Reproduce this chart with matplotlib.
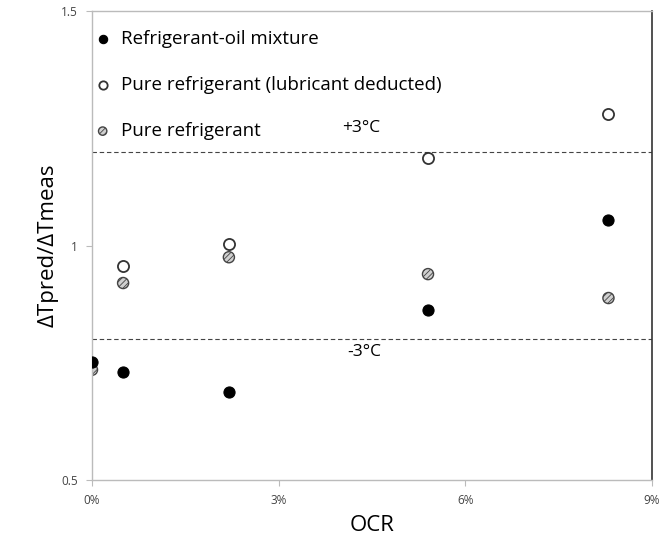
import matplotlib
matplotlib.use("Agg")
from matplotlib import pyplot as plt

plt.rcParams['font.family'] = ['Open Sans', 'DejaVu Sans']
plt.rcParams['hatch.linewidth'] = 0.6

# OCR (%) and predicted/measured ratios
ocr = [0.0, 0.5, 2.2, 5.4, 8.3]
mixture = [0.752, 0.730, 0.688, 0.862, 1.054]
deducted = [None, 0.956, 1.003, 1.187, 1.280]
pure = [0.735, 0.920, 0.975, 0.939, 0.888]

ocr_deducted = [x for x, v in zip(ocr, deducted) if v is not None]
deducted_vals = [v for v in deducted if v is not None]

upper, lower = 1.2, 0.8
xticks = [0, 3, 6, 9]
xticklabels = ['0%', '3%', '6%', '9%']
yticks = [0.5, 1.0, 1.5]
yticklabels = ['0.5', '1', '1.5']

fig = plt.figure(figsize=(6.59, 5.35), dpi=100)
ax = fig.add_axes([0.1396, 0.1028, 0.8498, 0.8766])

ax.axhline(upper, color='#444444', lw=0.8, ls=(0, (4, 2.5)), zorder=1)
ax.axhline(lower, color='#444444', lw=0.8, ls=(0, (4, 2.5)), zorder=1)

ax.scatter(ocr, mixture, s=64, facecolor='black', edgecolor='black',
           linewidth=0.8, zorder=3, label='Refrigerant-oil mixture')
ax.scatter(ocr_deducted, deducted_vals, s=64, facecolor='white',
           edgecolor='#333333', linewidth=1.3, zorder=3,
           label='Pure refrigerant (lubricant deducted)')
ax.scatter(ocr, pure, s=64, facecolor='#d0d0d0', edgecolor='#444444',
           linewidth=1.0, hatch='//////', zorder=2,
           label='Pure refrigerant')

ax.text(4.32, 1.25, '+3°C', fontsize=12.5, ha='center', va='center')
ax.text(4.37, 0.773, '-3°C', fontsize=12.5, ha='center', va='center')

ax.set_xlim(0, 9)
ax.set_ylim(0.5, 1.5)
ax.set_xticks(xticks)
ax.set_xticklabels(xticklabels, fontsize=8.5, color='#444444')
ax.set_yticks(yticks)
ax.set_yticklabels(yticklabels, fontsize=8.5, color='#444444')
ax.tick_params(axis='both', length=4, width=0.8, color='#bbbbbb', pad=6)

for side in ['left', 'bottom', 'top']:
    ax.spines[side].set_color('#bbbbbb')
    ax.spines[side].set_linewidth(1.0)
ax.spines['right'].set_color('#333333')
ax.spines['right'].set_linewidth(1.2)

ax.set_xlabel('OCR', fontsize=16, labelpad=6)
ax.set_ylabel('ΔTpred/ΔTmeas', fontsize=16, labelpad=2)

ax.legend(loc='upper left', frameon=False, fontsize=13.5, markerscale=0.75,
          handletextpad=0.55, labelspacing=1.5, borderaxespad=0.0,
          borderpad=0.0, handlelength=0.9, bbox_to_anchor=(0.004, 0.96))

fig.savefig('out.png', dpi=100)
